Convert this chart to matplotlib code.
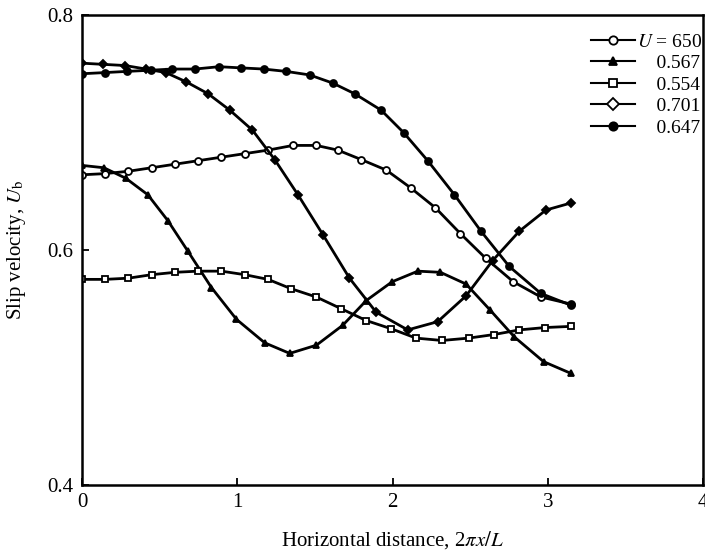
import matplotlib
matplotlib.use("Agg")
import matplotlib.pyplot as plt
from matplotlib.lines import Line2D

plt.rcParams['font.family'] = ['Liberation Serif', 'DejaVu Serif']
plt.rcParams['mathtext.fontset'] = 'stix'

# Series: U = 650 (open circles)
x_c = [0, 0.148, 0.298, 0.449, 0.598, 0.748, 0.898, 1.048, 1.198, 1.359, 1.509, 1.648, 1.798, 1.960, 2.116, 2.276, 2.437, 2.600, 2.778, 2.956, 3.149]
y_c = [0.664, 0.665, 0.667, 0.670, 0.673, 0.676, 0.679, 0.682, 0.685, 0.689, 0.689, 0.685, 0.677, 0.668, 0.653, 0.636, 0.614, 0.593, 0.573, 0.560, 0.554]

# 0.567 (filled triangles)
x_t = [0, 0.141, 0.283, 0.424, 0.553, 0.682, 0.834, 0.995, 1.177, 1.338, 1.510, 1.680, 1.831, 1.998, 2.163, 2.309, 2.474, 2.628, 2.785, 2.973, 3.149]
y_t = [0.672, 0.670, 0.661, 0.647, 0.625, 0.599, 0.568, 0.541, 0.521, 0.512, 0.519, 0.536, 0.557, 0.573, 0.582, 0.581, 0.571, 0.549, 0.526, 0.505, 0.495]

# 0.554 (open squares)
x_s = [0, 0.148, 0.298, 0.449, 0.598, 0.748, 0.898, 1.048, 1.198, 1.348, 1.509, 1.670, 1.830, 1.991, 2.152, 2.319, 2.490, 2.651, 2.817, 2.982, 3.149]
y_s = [0.575, 0.575, 0.576, 0.579, 0.581, 0.582, 0.582, 0.579, 0.575, 0.567, 0.560, 0.550, 0.540, 0.533, 0.525, 0.523, 0.525, 0.528, 0.532, 0.534, 0.535]

# 0.701 (diamonds)
x_d = [0, 0.137, 0.277, 0.412, 0.540, 0.673, 0.812, 0.952, 1.098, 1.241, 1.391, 1.552, 1.723, 1.895, 2.098, 2.291, 2.474, 2.645, 2.817, 2.988, 3.149]
y_d = [0.759, 0.758, 0.757, 0.754, 0.751, 0.743, 0.733, 0.719, 0.702, 0.677, 0.647, 0.613, 0.576, 0.547, 0.532, 0.539, 0.561, 0.591, 0.616, 0.634, 0.640]

# 0.647 (filled circles)
x_f = [0, 0.148, 0.289, 0.444, 0.579, 0.727, 0.883, 1.023, 1.170, 1.315, 1.466, 1.616, 1.756, 1.927, 2.071, 2.227, 2.399, 2.570, 2.752, 2.956, 3.149]
y_f = [0.750, 0.751, 0.752, 0.753, 0.754, 0.754, 0.756, 0.755, 0.754, 0.752, 0.749, 0.742, 0.733, 0.719, 0.700, 0.676, 0.647, 0.616, 0.586, 0.563, 0.553]

labels = ["$U$ = 650", "    0.567", "    0.554", "    0.701", "    0.647"]
x_ticks = [0, 1, 2, 3, 4]
y_ticks = [0.4, 0.6, 0.8]

fig = plt.figure(figsize=(7.05, 5.57), dpi=100)
ax = fig.add_axes([82/705, 1-485/557, 621/705, 470/557])

lw = 2.0
common = dict(color='black', lw=lw, markeredgecolor='black', markeredgewidth=1.3)
ax.plot(x_c, y_c, marker='o', ms=5, markerfacecolor='white', **common)
ax.plot(x_t, y_t, marker='^', ms=5, markerfacecolor='black', **common)
ax.plot(x_s, y_s, marker='s', ms=5, markerfacecolor='white', **common)
ax.plot(x_d, y_d, marker='D', ms=4, markerfacecolor='black', **common)
ax.plot(x_f, y_f, marker='o', ms=5, markerfacecolor='black', **common)

leg_handles = [
    Line2D([], [], marker='o', ms=6, markerfacecolor='white', **common),
    Line2D([], [], marker='^', ms=6, markerfacecolor='black', **common),
    Line2D([], [], marker='s', ms=6, markerfacecolor='white', **common),
    Line2D([], [], marker='D', ms=6, markerfacecolor='white', **common),
    Line2D([], [], marker='o', ms=6, markerfacecolor='black', **common),
]
for h in leg_handles:
    h.set_linewidth(1.5)
leg = ax.legend(leg_handles, labels, loc='upper right', frameon=False, fontsize=14,
                handlelength=2.3, handletextpad=0.1, labelspacing=0.2,
                borderaxespad=0.0, bbox_to_anchor=(1.012, 0.978))

ax.set_xlim(0, 4)
ax.set_ylim(0.4, 0.8)
ax.set_xticks(x_ticks)
ax.set_xticklabels([str(v) for v in x_ticks])
ax.set_yticks(y_ticks)
ax.set_yticklabels(["0.4", "0.6", "0.8"])
ax.tick_params(direction='in', length=5, width=1.3, labelsize=15, pad=6)
for s in ax.spines.values():
    s.set_linewidth(1.8)

ax.set_xlabel("Horizontal distance, 2$\\pi x/L$", fontsize=15, labelpad=12)
ax.set_ylabel("Slip velocity, $U_{\\mathrm{b}}$", fontsize=15, labelpad=14)

fig.savefig("out.png", dpi=100)
